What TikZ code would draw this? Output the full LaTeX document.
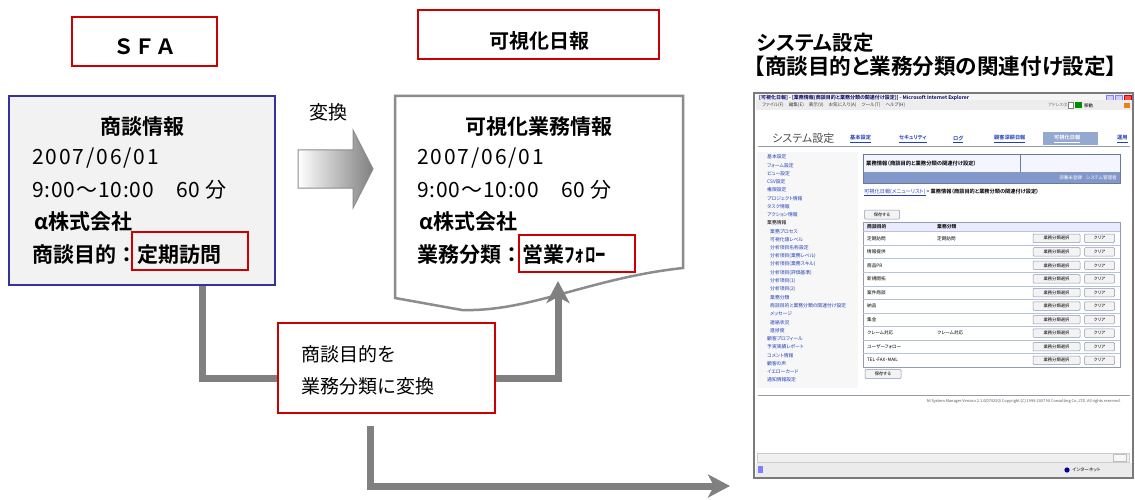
\documentclass[tikz,border=0pt]{standalone}
\usepackage{fontspec}
\setmainfont{Noto Sans CJK JP}[BoldFont={Noto Sans CJK JP Bold}]
\newfontfamily\jpp{Noto Sans CJK JP}[RawFeature=+palt,BoldFont={Noto Sans CJK JP Bold}]
\usetikzlibrary{arrows.meta}
\newcommand\fsz[1]{\fontsize{#1}{#1}\selectfont}
\definecolor{redc}{HTML}{CC0000}
\definecolor{bluec}{HTML}{333399}
\definecolor{connc}{HTML}{808080}
\definecolor{docc}{HTML}{8C8C8C}
\definecolor{linkc}{HTML}{2340B8}
\definecolor{tabc}{HTML}{8298C8}
\definecolor{btnc}{HTML}{8A96B4}
\definecolor{btnf}{HTML}{F3F3F3}
\definecolor{framec}{HTML}{7A7A7A}
\definecolor{gridc}{HTML}{B8C2D8}
\begin{document}
\begin{tikzpicture}[x=1pt,y=-1pt,
  redbox/.style={draw=redc,line width=2.5pt,inner sep=0pt},
  conn/.style={draw=connc,line width=7pt},
  tipup/.style={-{Stealth[length=22pt,width=23pt,inset=6pt]}},
  lbl/.style={anchor=west,inner sep=0pt,font=\fsz{21}},
  lblb/.style={anchor=west,inner sep=0pt,font=\fsz{21}\bfseries},
  ttl/.style={anchor=center,inner sep=0pt,font=\fsz{21}\bfseries},
  sm/.style={anchor=west,inner sep=0pt,font=\jpp\fsz{4.8}},
  btn/.style={draw=btnc,fill=btnf,line width=0.5pt,rounded corners=1pt,inner sep=0pt,font=\jpp\fsz{4.3}},
]
\useasboundingbox (0,0) rectangle (1135,500);
\fill[white] (0,0) rectangle (1135,500);

% ---------- SFA ----------
\node[redbox,minimum width=145pt,minimum height=49pt] (sfa) at (144.5,41.5) {};
\node[inner sep=0pt,font=\fsz{21}\bfseries] (sfat) at (145,47) {ＳＦＡ};

\node[draw=bluec,line width=2.5pt,fill=black!5,minimum width=266pt,minimum height=189pt] (src) at (142,190.5) {};
\node[ttl] (s0) at (142,127) {商談情報};
\node[lbl] (s1) at (32,158) {\addfontfeature{LetterSpace=9}2007/06/01};
\node[lbl] (s2) at (32,190) {\addfontfeature{LetterSpace=4}9:00～10:00\hspace{22pt}60 分};
\node[lblb] (s3) at (34,222) {α株式会社};
\node[lblb] (s4) at (32,255) {商談目的：定期訪問};
\node[redbox,minimum width=116pt,minimum height=38pt] (fix) at (190,251) {};

% ---------- transform arrow ----------
\node[inner sep=0pt,font=\fsz{19}] (hen) at (328,112) {変換};
\draw[draw=black!45,line width=1pt,left color=white,right color=black!50]
  (298,150) -- (353,150) -- (353,130) -- (373,169) -- (353,208) -- (353,188) -- (298,188) -- cycle;

% ---------- 可視化日報 ----------
\node[redbox,minimum width=241pt,minimum height=49pt] (vis) at (538.5,34.5) {};
\node[inner sep=0pt,font=\fsz{20}\bfseries] (vist) at (539,41) {可視化日報};

\draw[draw=docc,line width=2.5pt,fill=white]
  (395,96) -- (683,96) -- (683,268) .. controls (590,278) and (530,312) .. (462,310) -- (395,298) -- cycle;
\coordinate (docin) at (558,281);
\node[ttl] (d0) at (539,127) {可視化業務情報};
\node[lbl] (d1) at (417,158) {\addfontfeature{LetterSpace=9}2007/06/01};
\node[lbl] (d2) at (417,190) {\addfontfeature{LetterSpace=4}9:00～10:00\hspace{22pt}60 分};
\node[lblb] (d3) at (419,222) {α株式会社};
\node[lblb] (d4) at (417,255) {業務分類：営業ﾌｫﾛｰ};
\node[redbox,minimum width=116pt,minimum height=37pt] (fol) at (577,253.5) {};

% ---------- conversion box ----------
\node[redbox,minimum width=217pt,minimum height=90pt,fill=white] (conv) at (386.5,368) {};
\node[anchor=west,inner sep=0pt,font=\fsz{19}] (c1) at (301,354) {商談目的を};
\node[anchor=west,inner sep=0pt,font=\fsz{19}] (c2) at (301,386) {業務分類に変換};

\draw[conn] ([xshift=60pt]src.south) |- ([yshift=-10pt]conv.west);
\draw[conn,tipup] ([yshift=-10pt]conv.east) -| (docin);
\coordinate (bstart) at (370,426);
\coordinate (bend) at (730,486);
\draw[conn,tipup] (bstart) |- (bend);

% ---------- heading right ----------
\node[anchor=west,inner sep=0pt,font=\jpp\fsz{20.5}\bfseries] (h1) at (757,43) {システム設定};
\node[anchor=west,inner sep=0pt,font=\jpp\fsz{21.6}\bfseries] (h2) at (754,66) {【商談目的と業務分類の関連付け設定】};

% ---------- screenshot ----------
\node[draw=framec,line width=2.5pt,fill=white,minimum width=379pt,minimum height=385pt] (shot) at (943.5,285.5) {};
% title bar
\fill[black!4] (755.5,94.5) rectangle (1131.5,100.5);
\node[sm,font=\jpp\fsz{5}\bfseries,text=blue!40!black] (tb) at (759,97.5) {[可視化日報] - [業務情報(商談目的と業務分類の関連付け設定)] - Microsoft Internet Explorer};
\fill[blue!20,draw=blue!50] (1106,95) rectangle (1113,100.5);
\fill[blue!20,draw=blue!50] (1115,95) rectangle (1122,100.5);
\fill[red!70,draw=red!80!black] (1124,95) rectangle (1131,100.5);
% menu bar
\fill[black!7] (755.5,100.5) rectangle (1131.5,110);
\node[sm,font=\jpp\fsz{4.6},text=black!75] (mb) at (762,105.5) {ファイル(F)\hspace{5pt}編集(E)\hspace{5pt}表示(V)\hspace{5pt}お気に入り(A)\hspace{5pt}ツール(T)\hspace{5pt}ヘルプ(H)};
\node[sm,font=\jpp\fsz{4.3},text=black!55] (adr) at (1048,105.5) {アドレス(D)};
\draw[black!50,fill=white,line width=0.4pt] (1068,102.5) rectangle (1073,108.5);
\fill[green!55!black] (1075,102.5) rectangle (1082,108.5);
\node[sm,font=\jpp\fsz{4.5}] (go) at (1084,105.5) {移動};
\fill[orange!70!brown] (1124,103) rectangle (1130,108);
% header
\node[anchor=west,inner sep=0pt,font=\jpp\fsz{11},text=black!70] (sh) at (772,138) {システム設定};
\fill[tabc!85] (1043,132) rectangle (1098,145);
\foreach \x/\t [count=\k] in {850/基本設定,899/セキュリティ,953/ログ,994/顧客深耕日報,1117/運用}
  \node[sm,font=\jpp\fsz{5.2}\bfseries,text=linkc] (tab\k) at (\x,139) {\underline{\t}};
\node[sm,font=\jpp\fsz{5.2}\bfseries,text=white] (tabv) at (1054,139) {\underline{可視化日報}};
\draw[gridc!80!black,line width=0.8pt] (758,146) -- (1130,146);
% left menu
\fill[black!3] (757,152) rectangle (858,388);
\foreach \t/\ind/\w/\c [count=\i from 0] in {
  基本設定/0/b/linkc, フォーム設定/0/b/linkc, ビュー設定/0/b/linkc, CSV設定/0/b/linkc,
  権限設定/0/b/linkc, プロジェクト情報/0/b/linkc, タスク情報/0/b/linkc, アクション情報/0/b/linkc,
  業務情報/0/b/black, 業務プロセス/3/n/linkc, 可視化値レベル/3/n/linkc, 分析項目名称設定/3/n/linkc,
  分析項目(業務レベル)/3/n/linkc, 分析項目(業務スキル)/3/n/linkc, 分析項目(評価基準)/3/n/linkc,
  分析項目(1)/3/n/linkc, 分析項目(2)/3/n/linkc, 業務分類/3/n/linkc,
  商談目的と業務分類の関連付け設定/3/n/linkc, メッセージ/3/n/linkc, 連絡状況/3/n/linkc, 進捗度/3/n/linkc,
  顧客プロフィール/0/b/linkc, 予実実績レポート/0/b/linkc, コメント情報/0/b/linkc, 顧客の声/0/b/linkc,
  イエローカード/0/b/linkc, 通知情報設定/0/b/linkc}
{
  \ifx\w b\def\ff{\bfseries}\else\def\ff{}\fi
  \node[sm,font=\jpp\fsz{4.8}\ff,text=\c] (m\i) at (767+\ind,157+8.26*\i) {\t};
}
% content header
\fill[blue!4] (863,154) rectangle (1120,172);
\fill[tabc] (863,172) rectangle (1120,183);
\draw[tabc!80!black,line width=0.6pt] (863,154) rectangle (1120,183);
\draw[tabc!80!black,line width=0.6pt] (1020,154) -- (1020,172);
\node[sm,font=\jpp\fsz{5.3}\bfseries] (ch) at (866,163) {業務情報（商談目的と業務分類の関連付け設定）};
\node[anchor=east,inner sep=0pt,font=\jpp\fsz{4.6},text=white] (cu) at (1117,177.5) {部署未登録\hspace{4pt}システム管理者};
\node[sm,font=\jpp\fsz{5.2}] (bc) at (864,192.5) {\textcolor{linkc}{\underline{可視化日報(メニューリスト)}} > \textbf{業務情報（商談目的と業務分類の関連付け設定）}};
\node[btn,minimum width=35pt,minimum height=9pt] (save1) at (882,214.5) {保存する};
% table
\fill[blue!8] (863,222) rectangle (1120,231.5);
\draw[gridc!80!black,line width=0.6pt] (863,222) rectangle (1120,367);
\node[sm,font=\jpp\fsz{4.8}\bfseries] (th1) at (867,227) {商談目的};
\node[sm,font=\jpp\fsz{4.8}\bfseries] (th2) at (937,227) {業務分類};
\foreach \t/\u [count=\i from 0] in {定期訪問/定期訪問, 情報提供/, 商品PR/, 新規開拓/, 案件商談/, 納品/, 集金/, クレーム対応/クレーム対応, ユーザーフォロー/, TEL・FAX・MAIL/}
{
  \pgfmathsetmacro\yy{238.3+13.55*\i}
  \draw[gridc,line width=0.4pt] (863,231.5+13.55*\i) -- (1120,231.5+13.55*\i);
  \node[sm,font=\jpp\fsz{4.6}] (r\i) at (867,\yy) {\t};
  \node[sm,font=\jpp\fsz{4.6}] (u\i) at (937,\yy) {\u};
  \node[btn,minimum width=47pt,minimum height=8.5pt] (b\i) at (1056.5,\yy) {業務分類選択};
  \node[btn,minimum width=30pt,minimum height=8.5pt] (k\i) at (1099.5,\yy) {クリア};
}
\node[btn,minimum width=36pt,minimum height=9pt] (save2) at (883,374) {保存する};
% footer
\draw[gridc!80!black,line width=0.6pt] (758,395) -- (1130,395);
\node[anchor=east,inner sep=0pt,font=\fsz{3.9},text=black!65] (ft) at (1121,401) {NI System Manager Version 2.1.0(070250) Copyright (C) 1999-2007 NI Consulting Co.,LTD. All rights reserved.};
% scroll bar and status bar
\fill[black!6,draw=black!20,line width=0.4pt] (757,453) rectangle (1129,462);
\fill[black!3,draw=black!25,line width=0.4pt] (1113,454) rectangle (1126,461);
\fill[black!8] (755.5,463) rectangle (1131.5,476.5);
\fill[blue!50] (758,466) rectangle (763,473);
\fill[blue!60!black] (1067,470) circle (2.6);
\node[sm,font=\jpp\fsz{4.6}] (st) at (1072,470) {インターネット};
\end{tikzpicture}
\end{document}
